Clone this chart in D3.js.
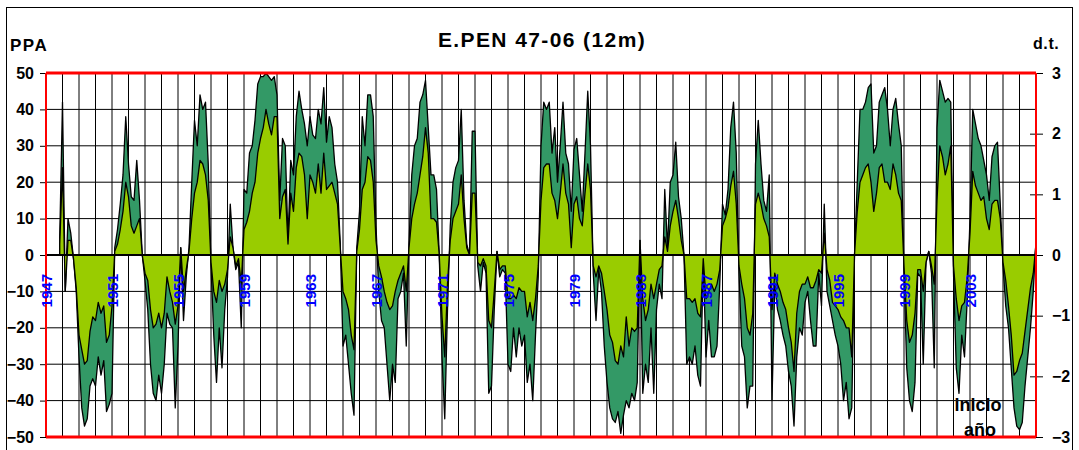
<!DOCTYPE html>
<html>
<head>
<meta charset="utf-8">
<script src="https://cdn.jsdelivr.net/npm/d3@7"></script>
<style>
  body { margin: 0; background: #fff; }
  svg { display: block; font-family: "Liberation Sans", Arial, sans-serif; font-weight: bold; }
</style>
</head>
<body>
<div id="chart"></div>
<script>
// Monthly 12m index, read every 2 months (6 values per year) from Jan 1947 to Jan 2007
const START_YEAR = 1947;
const END_YEAR = 2007;
const STEPS_PER_YEAR = 6;

const ppaTicks = [-50, -40, -30, -20, -10, 0, 10, 20, 30, 40, 50];
const dtTicks = [-3, -2, -1, 0, 1, 2, 3];
const yearLabels = [1947, 1951, 1955, 1959, 1963, 1967, 1971, 1975, 1979, 1983, 1987, 1991, 1995, 1999, 2003];

// dark green series (PPA)
const seriesGreen = [
  null, null, null, null, null, 5,     // 1947
  42, -10, 10, 6, -1, -10,             // 1948
  -28, -42, -47, -45, -36, -34,        // 1949
  -36, -28, -33, -29, -43, -41,        // 1950
  -38, 2, 7, 14, 22, 38,               // 1951
  25, 16, 15, 26, 15, 0,               // 1952
  -7, -15, -30, -38, -40, -33,         // 1953
  -38, -30, -16, -19, -20, -42,        // 1954
  -25, 2, -18, -6, 2, 20,              // 1955
  37, 30, 44, 40, 42, 25,              // 1956
  -3, -22, -35, -20, -31, -15,         // 1957
  -6, 14, 2, -4, -2, -20,              // 1958
  18, 17, 28, 30, 37, 47,              // 1959
  49, 49, 50, 49, 48, 49,              // 1960
  44, 15, 32, 30, 4, 26,               // 1961
  22, 38, 45, 40, 36, 30,              // 1962
  38, 33, 32, 40, 36, 46,              // 1963
  31, 38, 35, 25, 20, 3,               // 1964
  -25, -22, -30, -38, -44, 2,          // 1965
  12, 38, 30, 44, 44, 38,              // 1966
  8, -10, -18, -20, -30, -40,          // 1967
  -30, -35, -12, -10, -5, -25,         // 1968
  3, 22, 30, 32, 42, 44,               // 1969
  48, 35, 22, 22, 18, 0,               // 1970
  -28, -45, -15, 8, 20, 24,            // 1971
  26, 40, 15, 3, 0, 34,                // 1972
  34, -3, -10, -2, -5, -38,            // 1973
  -36, -15, 1, -6, -4, -5,             // 1974
  -30, -32, -20, -28, -20, -25,        // 1975
  -22, -35, -30, -40, -22, -6,         // 1976
  30, 42, 40, 42, 28, 35,              // 1977
  20, 30, 42, 28, 25, 12,              // 1978
  29, 32, 22, 12, 28, 45,              // 1979
  30, -5, -18, -4, -10, -25,           // 1980
  -35, -42, -45, -46, -43, -49,        // 1981
  -44, -40, -42, -38, -40, -35,        // 1982
  4, -38, -30, -35, -20, -38,          // 1983
  -15, -8, -12, 18, 2, 20,             // 1984
  22, 31, 16, 10, 0, -30,              // 1985
  -28, -30, -25, -33, -36, -1,         // 1986
  -28, -18, -28, -28, -25, -8,         // 1987
  14, 11, 18, 35, 42, 28,              // 1988
  -5, -25, -28, -42, -36, -36,         // 1989
  25, 37, 25, 15, 12, 22,              // 1990
  -40, -8, -15, -18, -22, -25,         // 1991
  -32, -36, -47, -28, -20, -22,        // 1992
  -13, -10, -18, -25, -25, -5,         // 1993
  -14, 14, -10, -14, -18, -22,         // 1994
  -25, -30, -40, -35, -45, -42,        // 1995
  0, 20, 40, 40, 42, 46,               // 1996
  47, 28, 30, 42, 44, 46,              // 1997
  40, 30, 40, 43, 36, 30,              // 1998
  -5, -31, -40, -43, -35, -5,          // 1999
  -6, -30, -2, 1, -5, -31,             // 2000
  35, 48, 45, 42, 43, 42,              // 2001
  -5, -31, -38, -22, -28, -12,         // 2002
  10, 40, 36, 32, 30, 26,              // 2003
  22, 15, 27, 30, 31, 14,              // 2004
  -3, -14, -20, -31, -42, -47,         // 2005
  -48, -46, -36, -28, -20, -10,        // 2006
  4                                    // 2007
];

// yellow-green series, in the same PPA units
const seriesLime = [
  null, null, null, null, null, 3,     // 1947
  24, -10, 4, 4, -1, -9,               // 1948
  -22, -26, -30, -29, -21, -17,        // 1949
  -18, -13, -16, -14, -24, -22,        // 1950
  -14, 1, 3, 7, 12, 20,                // 1951
  16, 8, 6, 8, 10, 0,                  // 1952
  -5, -7, -15, -20, -19, -16,          // 1953
  -20, -16, -6, -10, -13, -19,         // 1954
  -14, 2, -10, -4, 1, 10,              // 1955
  17, 20, 26, 25, 22, 15,              // 1956
  -2, -10, -13, -7, -10, -8,           // 1957
  -4, 5, 2, -3, -1, -8,                // 1958
  7, 9, 12, 17, 20, 28,                // 1959
  32, 35, 40, 36, 33, 38,              // 1960
  38, 10, 16, 18, 3, 17,               // 1961
  12, 24, 28, 27, 22, 10,              // 1962
  22, 20, 17, 25, 17, 28,              // 1963
  18, 19, 20, 17, 14, 2,               // 1964
  -10, -12, -15, -22, -26, 1,          // 1965
  7, 18, 20, 27, 26, 20,               // 1966
  4, -3, -6, -10, -13, -15,            // 1967
  -14, -10, -7, -5, -3, -10,           // 1968
  2, 10, 14, 17, 22, 27,               // 1969
  35, 28, 10, 10, 9, 0,                // 1970
  -17, -28, -8, 4, 10, 12,             // 1971
  14, 22, 10, 2, 0, 17,                // 1972
  17, -2, -3, -1, -3, -18,             // 1973
  -20, -10, 1, -4, -3, -3,             // 1974
  -12, -12, -11, -12, -9, -10,         // 1975
  -10, -17, -13, -18, -12, -3,         // 1976
  15, 24, 25, 25, 17, 15,              // 1977
  10, 17, 25, 17, 14, 2,               // 1978
  14, 16, 10, 8, 17, 25,               // 1979
  18, -3, -6, -3, -5, -10,             // 1980
  -15, -22, -24, -29, -30, -25,        // 1981
  -28, -17, -25, -20, -21, -20,        // 1982
  4, -12, -18, -15, -8, -12,           // 1983
  -8, -4, -3, 5, 1, 8,                 // 1984
  12, 15, 10, 4, 0, -12,               // 1985
  -12, -13, -12, -16, -17, -1,         // 1986
  -12, -10, -8, -10, -8, -4,           // 1987
  8, 10, 13, 19, 23, 14,               // 1988
  -3, -8, -12, -20, -22, -16,          // 1989
  14, 17, 14, 10, 8, 5,                // 1990
  -15, -5, -8, -10, -13, -15,          // 1991
  -20, -24, -32, -16, -10, -8,         // 1992
  -8, -6, -9, -9, -7, -4,              // 1993
  -5, 6, -4, -7, -13, -14,             // 1994
  -15, -17, -18, -20, -20, -28,        // 1995
  0, 12, 20, 22, 24, 25,               // 1996
  20, 12, 17, 24, 25, 20,              // 1997
  20, 18, 25, 22, 17, 15,              // 1998
  -3, -18, -24, -22, -16, -4,          // 1999
  -4, -10, -2, 1, -3, -8,              // 2000
  15, 30, 27, 22, 25, 30,              // 2001
  -3, -12, -18, -14, -13, -6,          // 2002
  6, 23, 19, 17, 15, 16,               // 2003
  10, 7, 14, 15, 15, 10,               // 2004
  -2, -7, -14, -22, -33, -32,          // 2005
  -29, -27, -21, -15, -9, -5,          // 2006
  3                                    // 2007
];

const COLOR = { green: "#339966", lime: "#99cc00", red: "#ff0000", year: "#0000ff" };

const W = 1079, H = 450;
const plot = { left: 46, right: 1036, top: 73, bottom: 437 };

const svg = d3.select("#chart").append("svg")
  .attr("width", W).attr("height", H);

svg.append("rect").attr("width", W).attr("height", H).attr("fill", "#fff");

// outer chart frame (bottom edge falls just outside the picture)
svg.append("rect")
  .attr("x", 6.5).attr("y", 7.5).attr("width", 1066).attr("height", 460)
  .attr("fill", "none").attr("stroke", "#000").attr("stroke-width", 1);

// scales
const x = d3.scaleLinear().domain([START_YEAR, END_YEAR]).range([plot.left, plot.right]);
const y = d3.scaleLinear().domain([-50, 50]).range([plot.bottom, plot.top]);
const yR = d3.scaleLinear().domain([-3, 3]).range([plot.bottom, plot.top]);

const data = seriesGreen.map((g, i) => ({
  t: START_YEAR + i / STEPS_PER_YEAR,
  green: g,
  lime: seriesLime[i]
}));

// grid: a vertical line every year, horizontal every 10 PPA
const grid = svg.append("g").attr("stroke", "#000").attr("stroke-width", 1);
grid.selectAll("line.v")
  .data(d3.range(START_YEAR + 1, END_YEAR))
  .join("line").attr("class", "v")
  .attr("x1", d => x(d)).attr("x2", d => x(d))
  .attr("y1", plot.top).attr("y2", plot.bottom);
grid.selectAll("line.h")
  .data(ppaTicks.filter(v => Math.abs(v) !== 50 && v !== 0))
  .join("line").attr("class", "h")
  .attr("x1", plot.left).attr("x2", plot.right)
  .attr("y1", d => y(d)).attr("y2", d => y(d));

svg.append("clipPath").attr("id", "clip")
  .append("rect")
  .attr("x", plot.left).attr("y", plot.top)
  .attr("width", plot.right - plot.left).attr("height", plot.bottom - plot.top);

const areaOf = key => d3.area()
  .defined(d => d[key] != null)
  .x(d => x(d.t))
  .y0(y(0))
  .y1(d => y(d[key]));

const areas = svg.append("g").attr("clip-path", "url(#clip)");
areas.append("path").datum(data)
  .attr("fill", COLOR.green).attr("stroke", "#000").attr("stroke-width", 1.3)
  .attr("stroke-linejoin", "round")
  .attr("d", areaOf("green"));
areas.append("path").datum(data)
  .attr("fill", COLOR.lime).attr("stroke", "#000").attr("stroke-width", 1.3)
  .attr("stroke-linejoin", "round")
  .attr("d", areaOf("lime"));

// zero line on top of the areas
svg.append("line")
  .attr("x1", plot.left).attr("x2", plot.right)
  .attr("y1", y(0)).attr("y2", y(0))
  .attr("stroke", "#000").attr("stroke-width", 2.2);

// left axis (PPA)
const axL = svg.append("g")
  .attr("transform", `translate(${plot.left},0)`)
  .call(d3.axisLeft(y).tickValues(ppaTicks).tickSize(6).tickPadding(6));
axL.select(".domain").remove();
axL.selectAll("line").attr("stroke", "#000");
axL.selectAll("text").attr("font-size", 16).attr("font-weight", "bold")
  .attr("font-family", "Liberation Sans, Arial, sans-serif").attr("fill", "#000");

// right axis (d.t.), ticks cross the edge
const axR = svg.append("g")
  .attr("transform", `translate(${plot.right},0)`)
  .call(d3.axisRight(yR).tickValues(dtTicks).tickFormat(d3.format("d")).tickSize(7).tickPadding(9));
axR.select(".domain").remove();
axR.selectAll("line").attr("x1", -6).attr("stroke", "#000");
axR.selectAll("text").attr("font-size", 16).attr("font-weight", "bold")
  .attr("font-family", "Liberation Sans, Arial, sans-serif").attr("fill", "#000");

// red plot border
const border = svg.append("g").attr("stroke", COLOR.red);
border.append("line").attr("stroke-width", 2)
  .attr("x1", plot.left).attr("x2", plot.left).attr("y1", plot.top).attr("y2", plot.bottom);
border.append("line").attr("stroke-width", 2)
  .attr("x1", plot.right).attr("x2", plot.right).attr("y1", plot.top).attr("y2", plot.bottom);
border.selectAll("line.lim")
  .data([50, -50])
  .join("line").attr("class", "lim").attr("stroke-width", 3)
  .attr("x1", plot.left).attr("x2", plot.right)
  .attr("y1", d => y(d)).attr("y2", d => y(d));

// year labels, vertical, in blue
svg.append("g").selectAll("text")
  .data(yearLabels)
  .join("text")
  .attr("transform", d => `translate(${x(d) + 6},274) rotate(-90)`)
  .attr("text-anchor", "end")
  .attr("font-size", 15)
  .attr("fill", COLOR.year)
  .text(d => d);

// titles
svg.append("text").attr("x", 542).attr("y", 47).attr("text-anchor", "middle")
  .attr("font-size", 21).attr("letter-spacing", 1.4).text("E.PEN 47-06 (12m)");
svg.append("text").attr("x", 10).attr("y", 51).attr("font-size", 17)
  .attr("letter-spacing", 1.5).text("PPA");
svg.append("text").attr("x", 1033).attr("y", 49).attr("font-size", 16)
  .attr("letter-spacing", 0.6).text("d.t.");

svg.append("text").attr("x", 978).attr("y", 411).attr("text-anchor", "middle")
  .attr("font-size", 18).text("inicio");
svg.append("text").attr("x", 980).attr("y", 436).attr("text-anchor", "middle")
  .attr("font-size", 18).text("año");
</script>
</body>
</html>
